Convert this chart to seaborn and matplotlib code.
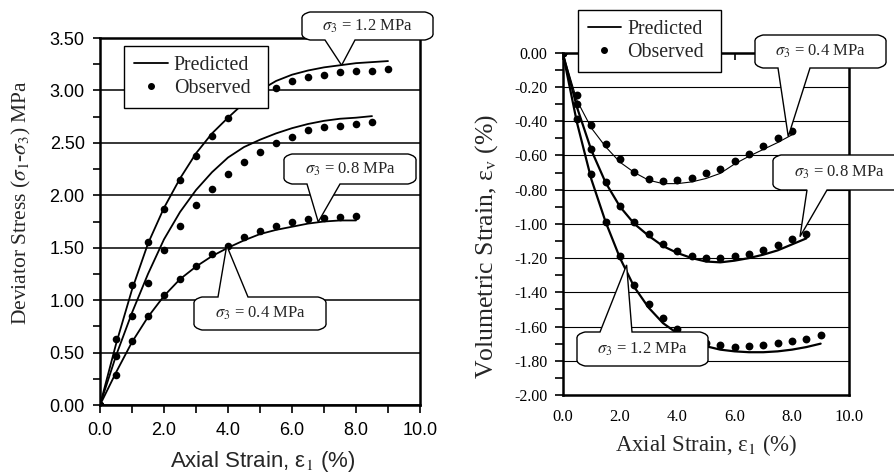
import numpy as np
import pandas as pd
import matplotlib
matplotlib.use("Agg")
import matplotlib.pyplot as plt
import seaborn as sns
from matplotlib.path import Path
from matplotlib.patches import PathPatch
from matplotlib.lines import Line2D
from matplotlib.transforms import IdentityTransform
from matplotlib.ticker import MultipleLocator, FormatStrFormatter

# ---------------- data ----------------
strain_04 = [0, 0.5, 1.0, 1.5, 2.0, 2.5, 3.0, 3.5, 4.0, 4.5, 5.0, 5.5, 6.0, 6.5, 7.0, 7.5, 8.0]
strain_08 = strain_04 + [8.5]
strain_12 = strain_08 + [9.0]

# Deviator stress (MPa)
dev_obs_12 = [0, 0.63, 1.14, 1.55, 1.87, 2.15, 2.37, 2.57, 2.74, 2.87, 2.96, 3.02, 3.09, 3.13, 3.15, 3.18, 3.19, 3.19, 3.20]
dev_pred_12 = [0, 0.58, 1.10, 1.54, 1.88, 2.16, 2.40, 2.59, 2.74, 2.88, 3.00, 3.09, 3.15, 3.19, 3.22, 3.24, 3.26, 3.27, 3.28]
dev_obs_08 = [0, 0.47, 0.85, 1.16, 1.48, 1.71, 1.91, 2.06, 2.20, 2.32, 2.41, 2.50, 2.56, 2.62, 2.65, 2.66, 2.68, 2.70]
dev_pred_08 = [0, 0.47, 0.88, 1.25, 1.58, 1.84, 2.05, 2.22, 2.36, 2.46, 2.53, 2.59, 2.64, 2.68, 2.71, 2.73, 2.74, 2.755]
dev_obs_04 = [0, 0.29, 0.61, 0.85, 1.05, 1.20, 1.33, 1.44, 1.52, 1.60, 1.66, 1.71, 1.75, 1.77, 1.78, 1.79, 1.80]
dev_pred_04 = [0, 0.31, 0.60, 0.84, 1.04, 1.20, 1.32, 1.42, 1.50, 1.57, 1.63, 1.67, 1.70, 1.73, 1.75, 1.76, 1.76]

# Volumetric strain (%)
vol_obs_04 = [0, -0.25, -0.42, -0.535, -0.62, -0.695, -0.74, -0.75, -0.745, -0.73, -0.705, -0.68, -0.635, -0.59, -0.545, -0.50, -0.455]
vol_pred_04 = [0, -0.28, -0.44, -0.55, -0.64, -0.70, -0.745, -0.765, -0.765, -0.755, -0.735, -0.705, -0.65, -0.605, -0.565, -0.525, -0.48]
vol_obs_08 = [0, -0.30, -0.565, -0.755, -0.895, -0.99, -1.06, -1.12, -1.16, -1.185, -1.20, -1.20, -1.19, -1.175, -1.15, -1.125, -1.09, -1.06]
vol_pred_08 = [0, -0.32, -0.57, -0.76, -0.90, -1.00, -1.07, -1.13, -1.17, -1.20, -1.22, -1.225, -1.215, -1.20, -1.18, -1.155, -1.12, -1.085]
vol_obs_12 = [0, -0.385, -0.71, -0.99, -1.185, -1.355, -1.47, -1.55, -1.615, -1.66, -1.695, -1.71, -1.72, -1.715, -1.71, -1.695, -1.685, -1.67, -1.65]
vol_pred_12 = [0, -0.41, -0.74, -0.99, -1.20, -1.37, -1.49, -1.58, -1.64, -1.685, -1.715, -1.735, -1.745, -1.75, -1.75, -1.745, -1.735, -1.72, -1.70]

legend_labels = ["Predicted", "Observed"]
callout_labels = [r"$\sigma_3$ = 0.4 MPa", r"$\sigma_3$ = 0.8 MPa", r"$\sigma_3$ = 1.2 MPa"]

# ---------------- style ----------------
sns.set_style("ticks")
plt.rcParams['font.family'] = ['Liberation Serif', 'DejaVu Serif']
plt.rcParams['mathtext.fontset'] = 'stix'
plt.rcParams['axes.unicode_minus'] = False

W, H = 895, 475
fig = plt.figure(figsize=(W / 100, H / 100), dpi=100)
ax1 = fig.add_axes([100 / W, 70 / H, 320 / W, 367 / H])
ax2 = fig.add_axes([562.7 / W, 80 / H, 286.6 / W, 342.3 / H])

# ---------------- left panel ----------------
for xs, ob, pr in [(strain_12, dev_obs_12, dev_pred_12),
                   (strain_08, dev_obs_08, dev_pred_08),
                   (strain_04, dev_obs_04, dev_pred_04)]:
    sns.lineplot(x=xs, y=pr, ax=ax1, color='black', lw=1.3, sort=False, estimator=None, zorder=3)
    sns.scatterplot(x=xs, y=ob, ax=ax1, color='black', s=30, linewidth=0, zorder=4)

ax1.set_xlim(0, 10)
ax1.set_ylim(0, 3.5)
ax1.xaxis.set_major_locator(MultipleLocator(2))
ax1.xaxis.set_minor_locator(MultipleLocator(1))
ax1.yaxis.set_major_locator(MultipleLocator(0.5))
ax1.yaxis.set_minor_locator(MultipleLocator(0.25))
ax1.xaxis.set_major_formatter(FormatStrFormatter('%.1f'))
ax1.yaxis.set_major_formatter(FormatStrFormatter('%.2f'))
ax1.yaxis.grid(True, which='major', color='black', lw=1.1)
ax1.set_axisbelow(True)
for s in ax1.spines.values():
    s.set_visible(True)
    s.set_linewidth(1.8)
    s.set_color('black')
ax1.tick_params(axis='both', which='both', direction='out', color='black', width=1.2,
                labelsize=13, labelfontfamily='Liberation Sans', labelcolor='black')
ax1.tick_params(axis='x', which='both', length=6, pad=6)
ax1.tick_params(axis='y', which='both', length=5, pad=6)
ax1.set_xlabel('')
ax1.set_ylabel('')

leg1 = ax1.legend(handles=[Line2D([], [], color='black', lw=1.3),
                           Line2D([], [], ls='', marker='o', ms=4, color='black')],
                  labels=legend_labels, loc='upper left', mode='expand',
                  bbox_to_anchor=(0.075, 0.79, 0.45, 0.188), borderaxespad=0,
                  fancybox=False, edgecolor='black', framealpha=1, fontsize=14.3,
                  handlelength=1.7, handletextpad=0.3, labelspacing=0.2, borderpad=0.5)
leg1.get_frame().set_linewidth(1.0)
leg1.set_zorder(10)

fig.text(262.5 / W, 1 - 461.7 / H, r"Axial Strain, ε$_1$ (%)", ha='center', va='center',
         fontsize=16, family='Liberation Sans')
fig.text(21 / W, 1 - 203 / H, r"Deviator Stress ($\sigma_1$-$\sigma_3$) MPa", ha='center', va='center',
         rotation=90, fontsize=15.5)

# ---------------- right panel ----------------
for xs, ob, pr, lw in [(strain_04, vol_obs_04, vol_pred_04, 0.8),
                       (strain_08, vol_obs_08, vol_pred_08, 1.6),
                       (strain_12, vol_obs_12, vol_pred_12, 1.6)]:
    sns.lineplot(x=xs, y=pr, ax=ax2, color='black', lw=lw, sort=False, estimator=None, zorder=3)
    sns.scatterplot(x=xs, y=ob, ax=ax2, color='black', s=32, linewidth=0, zorder=4)

ax2.set_xlim(0, 10)
ax2.set_ylim(-2, 0)
ax2.xaxis.set_major_locator(MultipleLocator(2))
ax2.xaxis.set_minor_locator(MultipleLocator(1))
ax2.yaxis.set_major_locator(MultipleLocator(0.2))
ax2.yaxis.set_minor_locator(MultipleLocator(0.1))
ax2.xaxis.set_major_formatter(FormatStrFormatter('%.1f'))
ax2.yaxis.set_major_formatter(FormatStrFormatter('%.2f'))
ax2.yaxis.grid(True, which='major', color='black', lw=0.8)
ax2.set_axisbelow(True)
for s in ax2.spines.values():
    s.set_visible(True)
    s.set_linewidth(1.8)
    s.set_color('black')
ax2.tick_params(axis='y', which='both', direction='out', length=6, width=1.2, pad=5,
                labelsize=11.5, color='black', labelcolor='black', labelfontfamily='Liberation Serif')
ax2.tick_params(axis='x', which='both', direction='in', length=5, width=1.2, pad=10,
                bottom=False, top=True, labelbottom=True, labeltop=False,
                labelsize=12, color='black', labelcolor='black', labelfontfamily='Liberation Serif')
ax2.set_xlabel('')
ax2.set_ylabel('')

leg2 = ax2.legend(handles=[Line2D([], [], color='black', lw=1.3),
                           Line2D([], [], ls='', marker='o', ms=4, color='black')],
                  labels=legend_labels, loc='upper left', mode='expand',
                  bbox_to_anchor=(0.052, 0.923, 0.50, 0.202), borderaxespad=0,
                  fancybox=False, edgecolor='black', framealpha=1, fontsize=14.3,
                  handlelength=1.7, handletextpad=0.3, labelspacing=0.2, borderpad=0.5)
leg2.get_frame().set_linewidth(1.0)
leg2.set_zorder(10)

fig.text(706 / W, 1 - 445 / H, r"Axial Strain, ε$_1$ (%)", ha='center', va='center', fontsize=16.5)
fig.text(487 / W, 1 - 246 / H, r"Volumetric Strain, ε$_\mathrm{v}$ (%)", ha='center', va='center',
         rotation=90, fontsize=18.5)


# ---------------- callouts ----------------
def callout(ax, text, tip, box, base, side, fs=12, r=7):
    """tip in data coords; box=(x0, ytop, x1, ybot) and base=(bx0, bx1) in pixel coords from top-left."""
    tx, ty = ax.transData.transform(tip)
    x0, yt, x1, yb = box
    Y1, Y0 = H - yt, H - yb
    b0, b1 = base
    verts, codes = [], []

    def mv(p):
        verts.append(p); codes.append(Path.MOVETO)

    def ln(p):
        verts.append(p); codes.append(Path.LINETO)

    def cv(c, p):
        verts.extend([c, p]); codes.extend([Path.CURVE3, Path.CURVE3])

    mv((x0 + r, Y1))
    if side == 'top':
        ln((b0, Y1)); ln((tx, ty)); ln((b1, Y1))
    ln((x1 - r, Y1))
    cv((x1 + 2, Y1 - r * 0.3), (x1 + 1, Y1 - r))
    ln((x1 + 1, Y0 + r))
    cv((x1 + 2, Y0 + r * 0.3), (x1 - r, Y0))
    if side == 'bottom':
        ln((b1, Y0)); ln((tx, ty)); ln((b0, Y0))
    ln((x0 + r, Y0))
    cv((x0 - 2, Y0 + r * 0.3), (x0 - 1, Y0 + r))
    ln((x0 - 1, Y1 - r))
    cv((x0 - 2, Y1 - r * 0.3), (x0 + r, Y1))
    codes.append(Path.CLOSEPOLY); verts.append((x0 + r, Y1))
    patch = PathPatch(Path(verts, codes), transform=IdentityTransform(), facecolor='white',
                      edgecolor='black', lw=1.0, zorder=20)
    fig.add_artist(patch)
    fig.text((x0 + x1) / 2 / W, 1 - (yt + yb) / 2 / H, text, ha='center', va='center',
             fontsize=fs, zorder=21)


# left panel callouts
callout(ax1, callout_labels[2], (7.55, 3.24), (303, 12, 432, 40), (325, 355), 'bottom')
callout(ax1, callout_labels[1], (6.82, 1.746), (285, 154, 415, 184), (307, 340), 'bottom')
callout(ax1, callout_labels[0], (3.96, 1.52), (195, 297, 325, 330), (218, 248), 'top')
# right panel callouts
callout(ax2, callout_labels[0], (7.87, -0.49), (756, 35, 885, 68), (778, 810), 'bottom')
callout(ax2, callout_labels[1], (8.28, -1.075), (774, 155, 905, 190), (807, 827), 'bottom')
callout(ax2, callout_labels[2], (2.23, -1.24), (578, 332, 707, 366), (600, 632), 'top')

fig.savefig("out.png", dpi=100)
